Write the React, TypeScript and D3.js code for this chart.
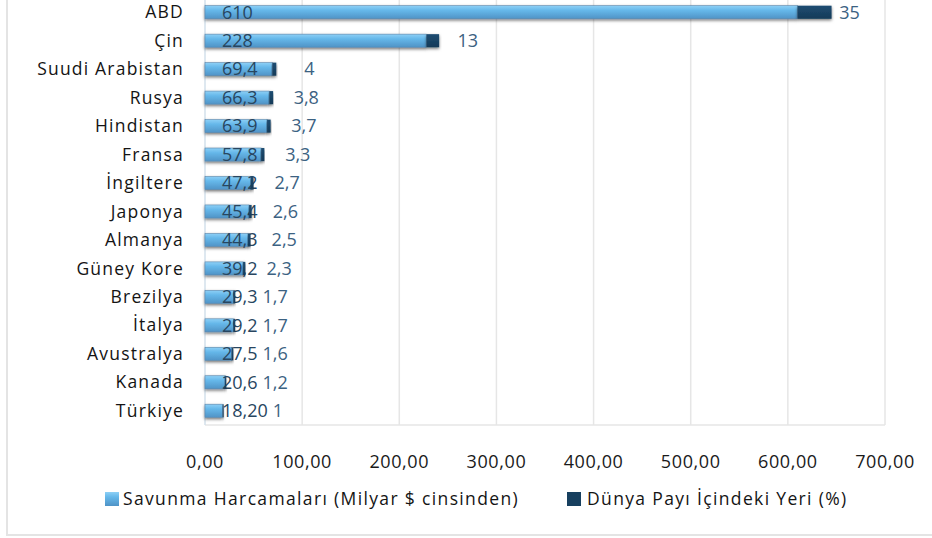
import React, { useRef, useEffect } from 'react';
import * as d3 from 'd3';

// chart data
const countries = ['ABD', 'Çin', 'Suudi Arabistan', 'Rusya', 'Hindistan', 'Fransa', 'İngiltere', 'Japonya', 'Almanya', 'Güney Kore', 'Brezilya', 'İtalya', 'Avustralya', 'Kanada', 'Türkiye'];
const spending = [610, 228, 69.4, 66.3, 63.9, 57.8, 47.2, 45.4, 44.3, 39.2, 29.3, 29.2, 27.5, 20.6, 18.2];
const spendingLabels = ['610', '228', '69,4', '66,3', '63,9', '57,8', '47,2', '45,4', '44,3', '39,2', '29,3', '29,2', '27,5', '20,6', '18,20'];
const share = [35, 13, 4, 3.8, 3.7, 3.3, 2.7, 2.6, 2.5, 2.3, 1.7, 1.7, 1.6, 1.2, 1];
const shareLabels = ['35', '13', '4', '3,8', '3,7', '3,3', '2,7', '2,6', '2,5', '2,3', '1,7', '1,7', '1,6', '1,2', '1'];
const xTicks = [0, 100, 200, 300, 400, 500, 600, 700];
const seriesNames = ['Savunma Harcamaları (Milyar $ cinsinden)', 'Dünya Payı İçindeki Yeri (%)'];

const W = 932;
const H = 538;
const FONT = '"Open Sans", sans-serif';

const trLocale = d3.formatLocale({ decimal: ',', thousands: '.', grouping: [3], currency: ['', ''] });
const tickFormat = trLocale.format('.2f');

const App: React.FC = () => {
    const svgRef = useRef<SVGSVGElement | null>(null);

    useEffect(() => {
        const svg = d3.select(svgRef.current);
        svg.selectAll('*').remove();

        const x = d3.scaleLinear().domain([0, 700]).range([205, 885]);
        const y = d3.scaleBand<string>()
            .domain(countries)
            .range([-2, 425])
            .paddingInner(0.54)
            .paddingOuter(0.27);

        const defs = svg.append('defs');
        const grad = defs.append('linearGradient')
            .attr('id', 'lightBar')
            .attr('x1', 0).attr('y1', 0).attr('x2', 0).attr('y2', 1);
        grad.append('stop').attr('offset', '0%').attr('stop-color', '#8ed0f6');
        grad.append('stop').attr('offset', '35%').attr('stop-color', '#66b8ea');
        grad.append('stop').attr('offset', '100%').attr('stop-color', '#4f93c6');

        const darkGrad = defs.append('linearGradient')
            .attr('id', 'darkBar')
            .attr('x1', 0).attr('y1', 0).attr('x2', 0).attr('y2', 1);
        darkGrad.append('stop').attr('offset', '0%').attr('stop-color', '#1f4d72');
        darkGrad.append('stop').attr('offset', '100%').attr('stop-color', '#143a58');

        const shadow = defs.append('filter')
            .attr('id', 'barShadow')
            .attr('x', '-20%').attr('y', '-60%').attr('width', '140%').attr('height', '240%');
        shadow.append('feDropShadow')
            .attr('dx', 0).attr('dy', 1.5)
            .attr('stdDeviation', 1.8)
            .attr('flood-color', '#000')
            .attr('flood-opacity', 0.55);

        // outer chart frame
        svg.append('rect')
            .attr('x', 7).attr('y', -10)
            .attr('width', W + 20).attr('height', 545)
            .attr('fill', '#fff')
            .attr('stroke', '#e4e4e4')
            .attr('stroke-width', 2);

        // vertical gridlines
        svg.append('g')
            .selectAll('line')
            .data(xTicks.slice(1))
            .join('line')
            .attr('x1', d => x(d)).attr('x2', d => x(d))
            .attr('y1', -2).attr('y2', 425)
            .attr('stroke', '#e6e6e6')
            .attr('stroke-width', 1.5);

        svg.append('line')
            .attr('x1', x(0)).attr('x2', x(700))
            .attr('y1', 425).attr('y2', 425)
            .attr('stroke', '#e6e6e6')
            .attr('stroke-width', 1.5);

        // left axis line
        svg.append('line')
            .attr('x1', x(0)).attr('x2', x(0))
            .attr('y1', -2).attr('y2', 425)
            .attr('stroke', '#d3e0eb')
            .attr('stroke-width', 1.5);

        // x tick labels
        svg.append('g')
            .selectAll('text')
            .data(xTicks)
            .join('text')
            .attr('x', d => x(d))
            .attr('y', 462)
            .attr('dy', '0.35em')
            .attr('text-anchor', 'middle')
            .attr('font-family', FONT)
            .attr('font-size', 18)
            .attr('letter-spacing', 0.6)
            .attr('fill', '#1a1a1a')
            .text(d => tickFormat(d));

        // category labels
        svg.append('g')
            .selectAll('text')
            .data(countries)
            .join('text')
            .attr('x', 184)
            .attr('y', d => (y(d) as number) + y.bandwidth() / 2)
            .attr('dy', '0.35em')
            .attr('text-anchor', 'end')
            .attr('font-family', FONT)
            .attr('font-size', 17.5)
            .attr('letter-spacing', 1.2)
            .attr('fill', '#141414')
            .text(d => d);

        const idx = d3.range(countries.length);

        // series 1 bars
        svg.append('g')
            .selectAll('rect')
            .data(idx)
            .join('rect')
            .attr('x', x(0))
            .attr('y', i => y(countries[i]) as number)
            .attr('width', i => x(spending[i]) - x(0))
            .attr('height', y.bandwidth())
            .attr('fill', 'url(#lightBar)')
            .attr('stroke', '#5b86ab')
            .attr('stroke-width', 0.6)
            .attr('filter', 'url(#barShadow)');

        // series 1 labels
        const lab1 = svg.append('g')
            .selectAll('text')
            .data(idx)
            .join('text')
            .attr('x', x(0) + 17)
            .attr('y', i => (y(countries[i]) as number) + y.bandwidth() / 2)
            .attr('dy', '0.35em')
            .attr('font-family', FONT)
            .attr('font-size', 18)
            .attr('fill', '#284660')
            .text(i => spendingLabels[i]);

        const lab1End: number[] = [];
        lab1.each(function (i) {
            lab1End[i] = x(0) + 17 + (this as SVGTextElement).getComputedTextLength();
        });

        // series 2 bars (drawn over series 1 labels)
        svg.append('g')
            .selectAll('rect')
            .data(idx)
            .join('rect')
            .attr('x', i => x(spending[i]))
            .attr('y', i => y(countries[i]) as number)
            .attr('width', i => x(spending[i] + share[i]) - x(spending[i]))
            .attr('height', y.bandwidth())
            .attr('fill', 'url(#darkBar)')
            .attr('filter', 'url(#barShadow)');

        // series 2 labels
        const lab2 = svg.append('g')
            .selectAll('text')
            .data(idx)
            .join('text')
            .attr('y', i => (y(countries[i]) as number) + y.bandwidth() / 2)
            .attr('dy', '0.35em')
            .attr('text-anchor', 'middle')
            .attr('font-family', FONT)
            .attr('font-size', 18)
            .attr('fill', '#3c6282')
            .text(i => shareLabels[i]);

        lab2.attr('x', function (i) {
            const w = (this as SVGTextElement).getComputedTextLength();
            const mid = x(spending[i] + share[i] / 2) + 35;
            return Math.max(mid, lab1End[i] + 5 + w / 2);
        });

        // legend
        const legendItems = [
            { name: seriesNames[0], fill: 'url(#lightBar)', sx: 105, tx: 123 },
            { name: seriesNames[1], fill: '#17405f', sx: 567, tx: 587 },
        ];
        const lg = svg.append('g')
            .selectAll('g')
            .data(legendItems)
            .join('g');
        lg.append('rect')
            .attr('x', d => d.sx)
            .attr('y', 492)
            .attr('width', 14)
            .attr('height', 14)
            .attr('fill', d => d.fill);
        lg.append('text')
            .attr('x', d => d.tx)
            .attr('y', 499)
            .attr('dy', '0.35em')
            .attr('font-family', FONT)
            .attr('font-size', 17.5)
            .attr('letter-spacing', 1.35)
            .attr('fill', '#141414')
            .text(d => d.name);
    }, []);

    return (
        <svg
            ref={svgRef}
            width={W}
            height={H}
            style={{ position: 'absolute', left: 0, top: 0, background: '#fff' }}
        ></svg>
    );
};

export default App;
